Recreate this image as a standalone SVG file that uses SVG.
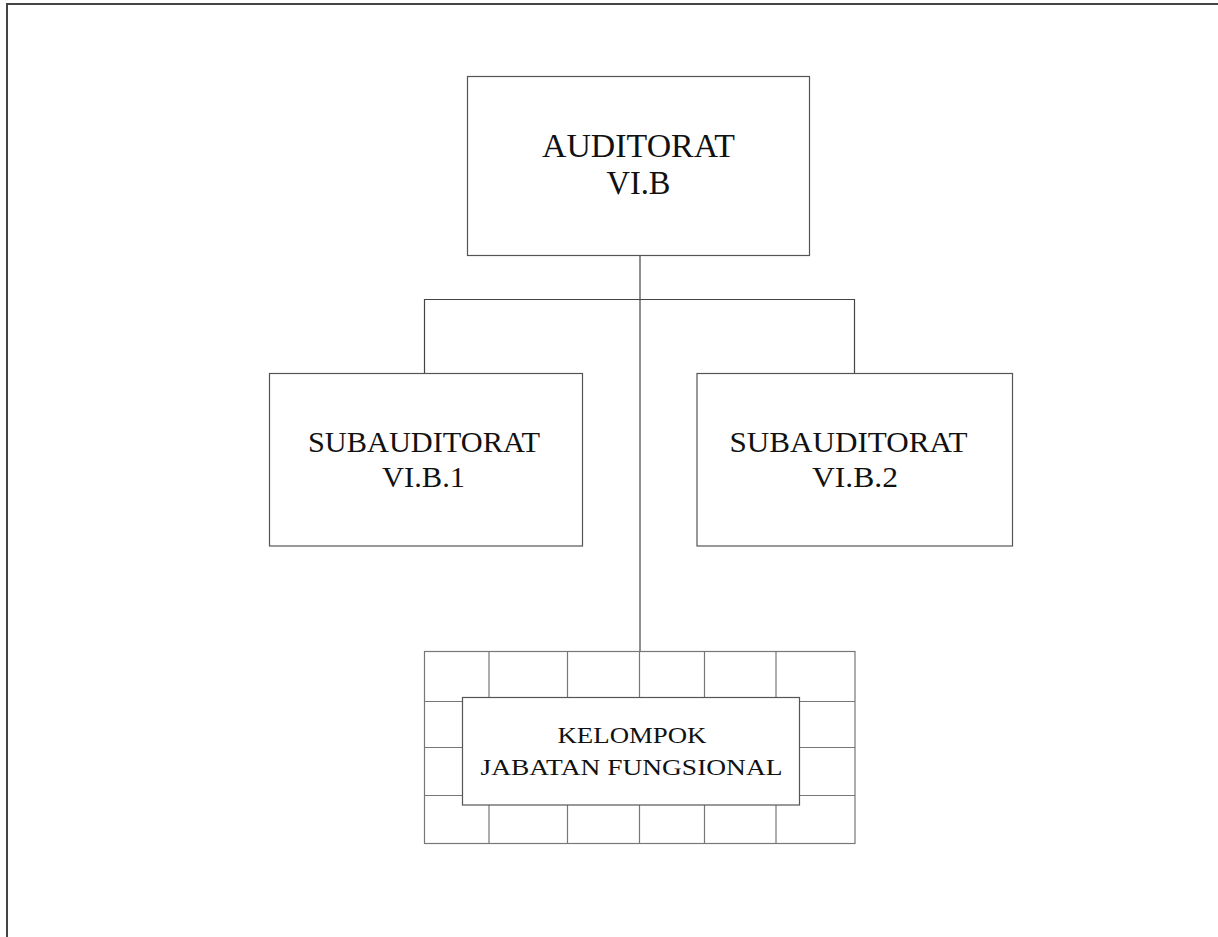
<svg xmlns="http://www.w3.org/2000/svg" width="1218" height="937" viewBox="0 0 1218 937">
<style>
.box{fill:#fff;stroke:#555;stroke-width:1.2}
.ln{stroke:#444;stroke-width:1.2;fill:none}
.grid{stroke:#777;stroke-width:1.2;fill:none}
.t{font-family:"Liberation Serif","DejaVu Serif",serif;fill:#111;text-anchor:middle}
</style>
<rect width="1218" height="937" fill="#fff"/>
<path d="M7,937 V4 H1218" fill="none" stroke="#444" stroke-width="2"/>
<g id="connectors">
<path class="ln" d="M640,256 V652"/>
<path class="ln" d="M424.5,373 V299.5 H854.5 V373"/>
</g>
<g id="auditorat">
<rect class="box" x="467.5" y="76.5" width="342" height="179"/>
<text class="t" font-size="33" x="638.5" y="157" textLength="193" lengthAdjust="spacingAndGlyphs">AUDITORAT</text>
<text class="t" font-size="33" x="638.5" y="194" textLength="64" lengthAdjust="spacingAndGlyphs">VI.B</text>
</g>
<g id="sub1">
<rect class="box" x="269.5" y="373.5" width="313" height="172.5"/>
<text class="t" font-size="30" x="424" y="452" textLength="232" lengthAdjust="spacingAndGlyphs">SUBAUDITORAT</text>
<text class="t" font-size="30" x="423.5" y="487" textLength="83" lengthAdjust="spacingAndGlyphs">VI.B.1</text>
</g>
<g id="sub2">
<rect class="box" x="697" y="373.5" width="315.5" height="172.5"/>
<text class="t" font-size="30" x="848.5" y="452" textLength="238" lengthAdjust="spacingAndGlyphs">SUBAUDITORAT</text>
<text class="t" font-size="30" x="855" y="487" textLength="86" lengthAdjust="spacingAndGlyphs">VI.B.2</text>
</g>
<g id="jafung">
<rect class="grid" x="424.5" y="651.5" width="430.5" height="192"/>
<path class="grid" d="M424.5,701.5 H855 M424.5,747.5 H855 M424.5,795.5 H855 M489,651.5 V843.5 M567.5,651.5 V843.5 M639.5,651.5 V843.5 M704.5,651.5 V843.5 M776,651.5 V843.5"/>
<rect class="box" x="462.5" y="697.5" width="337" height="107.5"/>
<text class="t" font-size="24" x="632" y="742.5" textLength="149" lengthAdjust="spacingAndGlyphs">KELOMPOK</text>
<text class="t" font-size="24" x="631.5" y="774.5" textLength="302" lengthAdjust="spacingAndGlyphs">JABATAN FUNGSIONAL</text>
</g>
</svg>
